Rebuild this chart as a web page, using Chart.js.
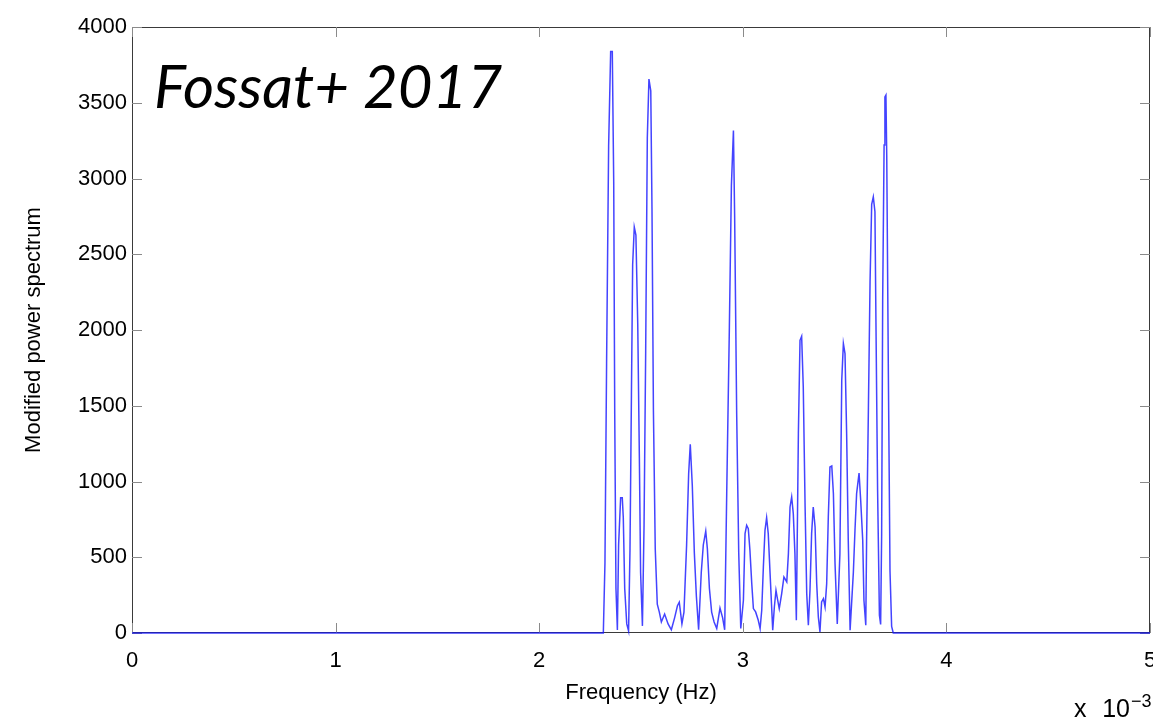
<!DOCTYPE html>
<html>
<head>
<meta charset="utf-8">
<title>Modified power spectrum</title>
<script src="https://cdn.jsdelivr.net/npm/chart.js@4.4.1/dist/chart.umd.min.js"></script>
<style>
  html, body { margin: 0; padding: 0; background: #ffffff; }
  #wrap { width: 1153px; height: 720px; }
</style>
</head>
<body>
<div id="wrap"><canvas id="spec" width="1153" height="720"></canvas></div>
<script>
// Frequency in units of 1e-3 Hz (the axis carries an "x 10^-3" multiplier)
const freq = [
  0, 2.315, 2.323, 2.331, 2.341, 2.351, 2.359, 2.366, 2.371, 2.377, 2.384,
  2.390, 2.400, 2.408, 2.413, 2.420, 2.430, 2.439,
  2.446, 2.453, 2.459, 2.467, 2.475, 2.484, 2.492, 2.498, 2.507,
  2.515, 2.523, 2.531, 2.539, 2.548, 2.554, 2.561, 2.570, 2.580,
  2.590, 2.600, 2.616, 2.633, 2.649, 2.665, 2.679, 2.688, 2.701, 2.711,
  2.724, 2.734, 2.742, 2.752, 2.762, 2.772, 2.783,
  2.796, 2.806, 2.818, 2.826, 2.836, 2.847, 2.859, 2.872, 2.888, 2.901, 2.911,
  2.921, 2.934, 2.944, 2.954, 2.960, 2.970, 2.980, 2.990,
  3.003, 3.011, 3.019, 3.027, 3.035, 3.044, 3.052, 3.063, 3.076, 3.085,
  3.093, 3.101, 3.109, 3.117, 3.125, 3.134, 3.147,
  3.155, 3.163, 3.170, 3.179, 3.191, 3.202, 3.216,
  3.224, 3.232, 3.240, 3.248, 3.256, 3.263,
  3.273, 3.281, 3.289, 3.297, 3.306, 3.314, 3.322,
  3.330, 3.338, 3.346, 3.355, 3.363, 3.371, 3.379,
  3.387, 3.396, 3.404, 3.412, 3.420, 3.428, 3.437, 3.445, 3.453, 3.464,
  3.477, 3.486, 3.494, 3.502, 3.510, 3.518, 3.527,
  3.543, 3.551, 3.559, 3.571, 3.579, 3.589, 3.595, 3.604,
  3.608, 3.617, 3.625, 3.633, 3.641, 3.649, 3.654, 3.662, 3.671, 3.677,
  3.682, 3.687, 3.694, 3.698, 3.703, 3.707, 3.715, 3.723, 3.731, 3.739, 5
];

// Modified power spectrum values at each frequency above
const power = [
  0, 0, 464, 1780, 3213, 3839, 3839, 2979, 1441, 294, 20,
  581, 893, 893, 763, 294, 60, 13,
  555, 1571, 2431, 2679, 2627, 2040, 1154, 399, 47,
  711, 1858, 3265, 3656, 3578, 2796, 1467, 555, 190,
  138, 73, 125, 60, 21, 100, 180, 203, 60, 138,
  581, 1050, 1246, 972, 529, 242, 21,
  399, 581, 672, 555, 294, 138, 73, 30, 164, 100, 21,
  920, 2014, 2953, 3317, 2744, 1441, 529, 30,
  216, 656, 711, 689, 546, 326, 161, 139, 84, 29,
  150, 436, 678, 761, 656, 392, 18,
  172, 282, 227, 161, 260, 370, 337,
  524, 832, 898, 788, 524, 84,
  1316, 1932, 1958, 1624, 832, 260, 51,
  282, 656, 832, 700, 326, 106, 7,
  205, 227, 172, 326, 766, 1096, 1102, 920, 458, 60,
  524, 1668, 1910, 1844, 1316, 612, 18,
  400, 678, 920, 1055, 876, 612, 216, 51,
  606, 1486, 2317, 2830, 2879, 2781, 2048, 948, 117, 56,
  655, 2195, 3221, 3539, 3551, 3148, 1706, 410, 44, 0, 0
];

const xTicks = [0, 1, 2, 3, 4, 5];
const yTicks = [0, 500, 1000, 1500, 2000, 2500, 3000, 3500, 4000];
const titleText = 'Fossat+ 2017';
const xTitle = 'Frequency (Hz)';
const yTitle = 'Modified power spectrum';
const xMultiplier = ['x', '10'];
const xExponent = '\u22123';

const AXIS_FONT = '"Liberation Sans", Arial, Helvetica, sans-serif';

// MATLAB-style box: frame around the plot area with inward ticks on all sides
const boxFrame = {
  id: 'boxFrame',
  beforeDatasetsDraw(chart) {
    const { ctx, chartArea: a, scales: { x, y } } = chart;
    const len = 10;
    ctx.save();
    ctx.strokeStyle = '#3a3a3a';
    ctx.lineWidth = 1;
    ctx.strokeRect(a.left + 0.5, a.top + 0.5, a.right - a.left - 1, a.bottom - a.top - 1);
    ctx.strokeStyle = '#8a8a8a';
    ctx.beginPath();
    xTicks.forEach(v => {
      const px = Math.round(x.getPixelForValue(v)) + 0.5;
      ctx.moveTo(px, a.bottom); ctx.lineTo(px, a.bottom - len);
      ctx.moveTo(px, a.top); ctx.lineTo(px, a.top + len);
    });
    yTicks.forEach(v => {
      const py = Math.round(y.getPixelForValue(v)) + 0.5;
      ctx.moveTo(a.left, py); ctx.lineTo(a.left + len, py);
      ctx.moveTo(a.right, py); ctx.lineTo(a.right - len, py);
    });
    ctx.stroke();
    ctx.restore();
  },
  afterDraw(chart) {
    const { ctx, chartArea: a } = chart;
    ctx.save();
    // in-plot title
    ctx.fillStyle = '#000000';
    ctx.font = 'italic 60px Lato, "Open Sans", sans-serif';
    ctx.textBaseline = 'alphabetic';
    ctx.textAlign = 'left';
    ctx.fillText(titleText, a.left + 22, 108);
    // exponent multiplier for the frequency axis
    ctx.font = '25px ' + AXIS_FONT;
    ctx.textAlign = 'left';
    ctx.fillText(xMultiplier[0], a.right - 76, 717);
    ctx.textAlign = 'right';
    ctx.fillText(xMultiplier[1], a.right - 20, 717);
    ctx.font = '18px ' + AXIS_FONT;
    ctx.textAlign = 'left';
    ctx.fillText(xExponent, a.right - 19, 707);
    ctx.restore();
  }
};

const points = freq.map((f, i) => ({ x: f, y: power[i] }));

new Chart(document.getElementById('spec'), {
  type: 'scatter',
  data: {
    datasets: [{
      data: points,
      showLine: true,
      borderColor: 'rgba(20, 20, 255, 0.8)',
      borderWidth: 1.5,
      pointRadius: 0,
      tension: 0,
      fill: false,
      clip: 4
    }]
  },
  options: {
    responsive: false,
    animation: false,
    devicePixelRatio: 1,
    layout: { padding: { top: 27, right: 3, left: 0, bottom: 0 } },
    plugins: { legend: { display: false }, tooltip: { enabled: false } },
    scales: {
      x: {
        type: 'linear',
        min: 0, max: 5,
        afterBuildTicks(s) { s.ticks = xTicks.map(v => ({ value: v })); },
        afterFit(s) { s.height = 87; s.paddingLeft = 0; s.paddingRight = 0; },
        grid: { display: false, drawTicks: false },
        border: { display: false },
        ticks: {
          color: '#000000',
          font: { family: AXIS_FONT, size: 22 },
          padding: 15,
          maxRotation: 0,
          autoSkip: false,
          callback: v => String(v)
        },
        title: {
          display: true,
          text: xTitle,
          color: '#000000',
          font: { family: AXIS_FONT, size: 22 },
          padding: { top: 0, bottom: 14 }
        }
      },
      y: {
        type: 'linear',
        min: 0, max: 4000,
        afterBuildTicks(s) { s.ticks = yTicks.map(v => ({ value: v })); },
        afterFit(s) { s.width = 132; s.paddingTop = 0; s.paddingBottom = 0; },
        grid: { display: false, drawTicks: false },
        border: { display: false },
        ticks: {
          color: '#000000',
          font: { family: AXIS_FONT, size: 22 },
          padding: 5,
          autoSkip: false,
          callback: v => String(v)
        },
        title: {
          display: true,
          text: yTitle,
          color: '#000000',
          font: { family: AXIS_FONT, size: 22 },
          padding: { top: 21, bottom: 0 }
        }
      }
    }
  },
  plugins: [boxFrame]
});
</script>
</body>
</html>
